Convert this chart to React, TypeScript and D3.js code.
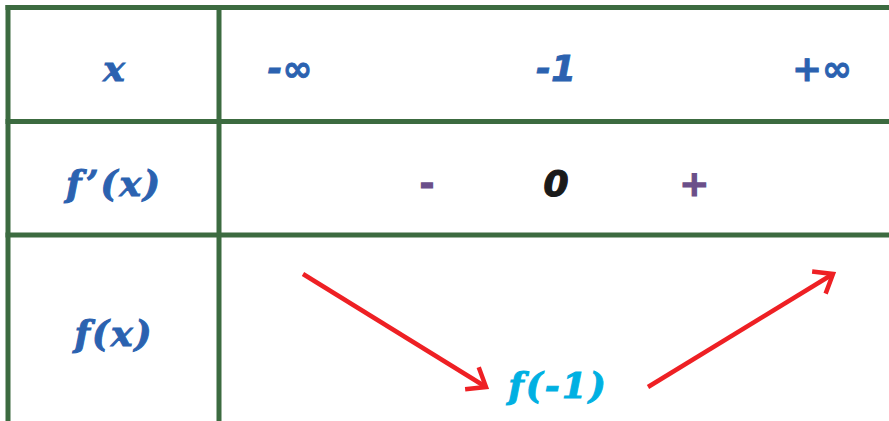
import React from "react";
import * as d3 from "d3";

// variation table data
const rowLabels = ["x", "f\u2019(x)", "f(x)"];
const xValues = ["-\u221e", "-1", "+\u221e"];
const signs = ["-", "0", "+"];
const signPos = [0.515, 1, 1.52];
const variation = [1, 0, 1]; // 1 = high, 0 = low
const extremumLabel = "f(-1)";

const W = 889;
const H = 421;
const green = "#3c6b40";
const blue = "#2b62b0";
const purple = "#6b4f8a";
const red = "#ee2024";
const cyan = "#00b0e2";

const xScale = d3.scaleLinear().domain([0, 2]).range([290, 822]);
const vScale = d3.scaleLinear().domain([0, 1]).range([387, 274]);

function arrowHead(tip: [number, number], from: [number, number]) {
  const ang = Math.atan2(from[1] - tip[1], from[0] - tip[0]);
  const len = 21;
  const spread = (38 * Math.PI) / 180;
  const a: [number, number] = [tip[0] + len * Math.cos(ang + spread), tip[1] + len * Math.sin(ang + spread)];
  const b: [number, number] = [tip[0] + len * Math.cos(ang - spread), tip[1] + len * Math.sin(ang - spread)];
  return d3.line()([a, tip, b]);
}

export default function App() {
  const rowTop = [7.5, 121.5, 235];
  const colLeft = 8;
  const colMid = 219;
  const rowCenters = [68, 183, 333];

  // arrow segments between consecutive x values
  const pads = [
    [13, 70],
    [92, -11],
  ];
  const arrows = variation.slice(0, -1).map((v, i) => {
    const p0: [number, number] = [xScale(i) + pads[i][0], vScale(v)];
    const p1: [number, number] = [xScale(i + 1) - pads[i][1], vScale(variation[i + 1])];
    return { p0, p1 };
  });

  return (
    <svg width={W} height={H} style={{ position: "absolute", left: 0, top: 0, background: "#fff" }}>
      {/* grid */}
      {rowTop.map((y, i) => (
        <line key={i} x1={colLeft - 2.5} x2={W} y1={y} y2={y} stroke={green} strokeWidth={5} />
      ))}
      <line x1={colLeft} x2={colLeft} y1={5} y2={H} stroke={green} strokeWidth={5} />
      <line x1={colMid} x2={colMid} y1={5} y2={H} stroke={green} strokeWidth={5} />

      {/* row labels */}
      {rowLabels.map((t, i) => (
        <text
          key={i}
          x={114}
          y={rowCenters[i]}
          dy="0.35em"
          textAnchor="middle"
          fontFamily="DejaVu Serif"
          fontStyle="italic"
          fontWeight="bold"
          fontSize={36}
          letterSpacing={i === 0 ? 0 : 2}
          fill={blue}
          stroke={blue}
          strokeWidth={1}
        >
          {t}
        </text>
      ))}

      {/* x values */}
      {xValues.map((t, i) => (
        <text
          key={i}
          x={xScale(i)}
          y={68}
          dy="0.35em"
          textAnchor="middle"
          fontFamily="DejaVu Sans"
          fontStyle="italic"
          fontWeight="bold"
          fontSize={36}
          fill={blue}
          stroke={blue}
          strokeWidth={0.8}
        >
          {t}
        </text>
      ))}

      {/* signs */}
      {signs.map((t, i) => (
        <text
          key={i}
          x={xScale(signPos[i])}
          y={183}
          dy="0.35em"
          textAnchor="middle"
          fontFamily="DejaVu Sans"
          fontStyle={t === "0" ? "italic" : "normal"}
          fontWeight="bold"
          fontSize={36}
          fill={t === "0" ? "#1a1a1a" : purple}
          stroke={t === "0" ? "#1a1a1a" : purple}
          strokeWidth={1.2}
        >
          {t}
        </text>
      ))}

      {/* variation arrows */}
      {arrows.map((a, i) => (
        <g key={i} stroke={red} strokeWidth={4.5} fill="none">
          <path d={d3.line()([a.p0, a.p1]) || ""} />
          <path d={arrowHead(a.p1, a.p0) || ""} strokeLinejoin="miter" />
        </g>
      ))}

      <text
        x={xScale(1) + 2}
        y={vScale(0) - 2}
        dy="0.35em"
        textAnchor="middle"
        fontFamily="DejaVu Serif"
        fontStyle="italic"
        fontWeight="bold"
        fontSize={36}
        letterSpacing={2}
        fill={cyan}
        stroke={cyan}
        strokeWidth={1}
      >
        {extremumLabel}
      </text>
    </svg>
  );
}
